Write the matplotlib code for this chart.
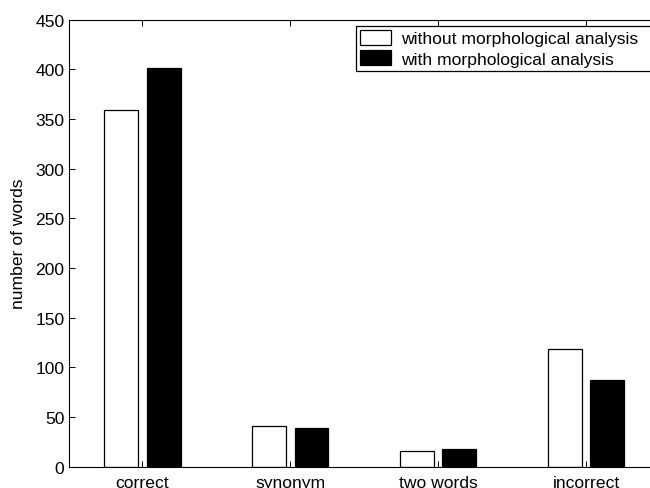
import matplotlib
matplotlib.use('Agg')
import matplotlib.pyplot as plt
import numpy as np

plt.rcParams['font.family'] = ['Liberation Sans', 'DejaVu Sans']
f_size = 12.6

categories = ['correct', 'synonym', 'two words', 'incorrect']
without_morph = [359, 41, 16, 118]
with_morph = [401, 39, 18, 87]
series_labels = ['without morphological analysis', 'with morphological analysis']

W, H = 650, 489
fig = plt.figure(figsize=(W / 100, H / 100), dpi=100)

# axes in pixel coords, right edge runs off the canvas like the original crop
left, right, top, bottom = 68.5, 660, 20.7, 467.7
ax = fig.add_axes([left / W, (H - bottom) / H, (right - left) / W, (bottom - top) / H])

x = np.arange(1, len(categories) + 1)
off = 0.143
bw = 0.229
ax.bar(x - off, without_morph, bw, color='white', edgecolor='black', linewidth=0.9, label=series_labels[0])
ax.bar(x + off, with_morph, bw, color='black', edgecolor='black', linewidth=0.9, label=series_labels[1])

ax.set_xlim(0.5, 4.5)
ax.set_ylim(0, 450)
ax.set_xticks(x)
ax.set_xticklabels(categories, fontsize=f_size)
ax.set_yticks(np.arange(0, 451, 50))
ax.tick_params(axis='y', labelsize=f_size, pad=3)
ax.tick_params(axis='x', pad=6)
ax.tick_params(direction='in', top=True, right=True, length=4, width=0.7)
for s in ax.spines.values():
    s.set_linewidth(0.8)

ax.set_ylabel('number of words', fontsize=f_size)
ax.yaxis.set_label_coords(-0.072, 0.5)

# legend box spills past the right edge too
leg_top = 1 - 26.7 / H
leg = ax.legend(loc='upper left', bbox_to_anchor=(355.5 / W, leg_top, 320 / W, 0),
                bbox_transform=fig.transFigure, mode='expand',
                fontsize=f_size, frameon=True, fancybox=False, framealpha=1,
                edgecolor='black', handlelength=1.75, handleheight=0.9,
                handletextpad=0.6, labelspacing=0.22, borderpad=0.25,
                borderaxespad=0)
leg.get_frame().set_linewidth(0.9)

fig.savefig('out.png', dpi=100)
